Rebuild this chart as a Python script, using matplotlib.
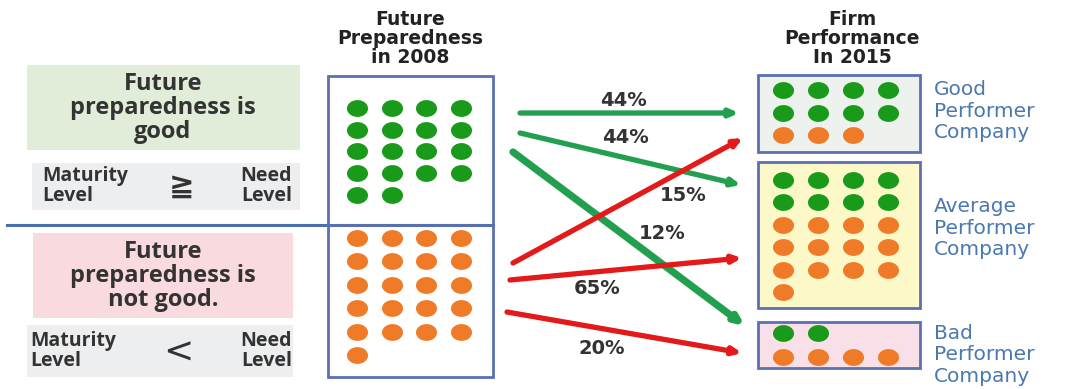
import matplotlib.pyplot as plt
from matplotlib.patches import Rectangle
import numpy as np

# dot counts in each box (green = prepared, orange = not prepared)
left_green = 18
left_orange = 21
good_counts = [8, 3]      # green, orange
average_counts = [8, 13]
bad_counts = [2, 4]

# flows between 2008 preparedness and 2015 performance
flow_labels = ['44%', '44%', '12%', '15%', '65%', '20%']
flow_colors = ['green', 'green', 'green', 'red', 'red', 'red']

col_title_left = 'Future\nPreparedness\nin 2008'
col_title_right = 'Firm\nPerformance\nIn 2015'
perf_labels = ['Good\nPerformer\nCompany', 'Average\nPerformer\nCompany',
               'Bad\nPerformer\nCompany']

GREEN = '#1a9a1a'
ORANGE = '#ef7b28'
ARROW_GREEN = '#22a050'
ARROW_RED = '#e41a1a'
EDGE = '#5a70b0'
TXT = '#333333'
BLUE_TXT = '#4a78b0'

fig = plt.figure(figsize=(10.72, 3.89), dpi=100)
ax = fig.add_axes([0, 0, 1, 1])
ax.set_xlim(0, 1072)
ax.set_ylim(389, 0)
ax.axis('off')

# ellipse marker (dots are a bit wider than tall)
t = np.linspace(0, 2*np.pi, 40)
ell = np.column_stack([np.cos(t), 0.8*np.sin(t)])


def grid(x0, y0, dx, dy, n, ncol=4, start_row=0):
    xs, ys = [], []
    for k in range(n):
        r = k // ncol + start_row
        c = k % ncol
        xs.append(x0 + c*dx)
        ys.append(y0 + r*dy)
    return xs, ys


def box(x, y, w, h, fc, ec=EDGE, lw=2):
    ax.add_patch(Rectangle((x, y), w, h, fc=fc, ec=ec, lw=lw, zorder=1))


# left description boxes
box(27, 65, 273, 85, '#e1edd8', ec='none')
box(32, 163, 268, 47, '#eceef0', ec='none')
box(33, 233, 260, 85, '#f9dade', ec='none')
box(27, 325, 266, 52, '#eceef0', ec='none')

ax.text(163, 108, 'Future\npreparedness is\ngood', ha='center', va='center',
        fontsize=17, fontfamily='Open Sans', fontweight='bold', color=TXT,
        linespacing=0.98)
ax.text(163, 276, 'Future\npreparedness is\nnot good.', ha='center', va='center',
        fontsize=17, fontfamily='Open Sans', fontweight='bold', color=TXT,
        linespacing=0.98)
for yc, x1, x2 in [(186, 42, 292), (351, 30, 292)]:
    ax.text(x1, yc, 'Maturity\nLevel', ha='left', va='center', fontsize=14,
            fontfamily='Open Sans', fontweight='bold', color=TXT, linespacing=0.95)
    ax.text(x2, yc, 'Need\nLevel', ha='right', va='center', fontsize=14,
            fontfamily='Open Sans', fontweight='bold', color=TXT, linespacing=0.95)
ax.text(182, 186, '≧', ha='center', va='center', fontsize=22, color=TXT,
        fontfamily='DejaVu Sans', fontweight='bold')
ax.text(178, 353, '<', ha='center', va='center', fontsize=26, color=TXT,
        fontfamily='DejaVu Sans')

# separator line
ax.plot([7, 493], [225, 225], color='#4a6fb0', lw=2.2, zorder=2)

# middle box
box(328, 76, 165, 301, 'white')
ax.plot([328, 493], [225, 225], color=EDGE, lw=2, zorder=2)

# right boxes
box(758, 75, 162, 77, '#eef2ee')
box(758, 162, 162, 146, '#fdf8c8')
box(758, 322, 162, 46, '#f9e0e8')

# titles
ax.text(410, 38, col_title_left, ha='center', va='center', fontsize=13.5,
        fontweight='bold', color='#222222', linespacing=1.0)
ax.text(852, 38, col_title_right, ha='center', va='center', fontsize=13.5,
        fontweight='bold', color='#222222', linespacing=1.0)

for yc, lab in zip([111, 228, 355], perf_labels):
    ax.text(934, yc, lab, ha='left', va='center', fontsize=14.5, color=BLUE_TXT,
            linespacing=1.15)

kw = dict(marker=ell, s=230, zorder=3, linewidths=0)

# left dots
xs, ys = grid(357, 108, 34.5, 21.7, left_green)
ax.scatter(xs, ys, color=GREEN, **kw)
xs, ys = grid(357, 238, 34.5, 23.4, left_orange)
ax.scatter(xs, ys, color=ORANGE, **kw)

# right dots
for (ng, no), y0, dy in [(good_counts, 90, 22.5), (average_counts, 180, 22.4),
                         (bad_counts, 333, 24)]:
    xs, ys = grid(783, y0, 35, dy, ng)
    ax.scatter(xs, ys, color=GREEN, **kw)
    start = (ng + 3) // 4
    xs, ys = grid(783, y0, 35, dy, no, start_row=start)
    ax.scatter(xs, ys, color=ORANGE, **kw)

# arrows
starts = [(520, 113), (520, 133), (513, 152), (513, 263), (510, 280), (507, 312)]
ends = [(739, 113), (741, 185), (745, 326), (743, 138), (742, 258), (742, 353)]
widths = [3.8, 3.8, 5.2, 3.8, 3.8, 3.8]
lab_pos = [(623, 100), (625, 137), (662, 233), (683, 195), (597, 288), (602, 348)]
for s, e, w, c in zip(starts, ends, widths, flow_colors):
    col = ARROW_GREEN if c == 'green' else ARROW_RED
    ax.annotate('', xy=e, xytext=s,
                arrowprops=dict(arrowstyle='-|>,head_length=0.4,head_width=0.18',
                                mutation_scale=12, color=col, lw=w,
                                shrinkA=0, shrinkB=0), zorder=4)
for (x, y), lab in zip(lab_pos, flow_labels):
    ax.text(x, y, lab, ha='center', va='center', fontsize=14, fontweight='bold',
            color=TXT, zorder=5)

fig.savefig('out.png', dpi=100)
